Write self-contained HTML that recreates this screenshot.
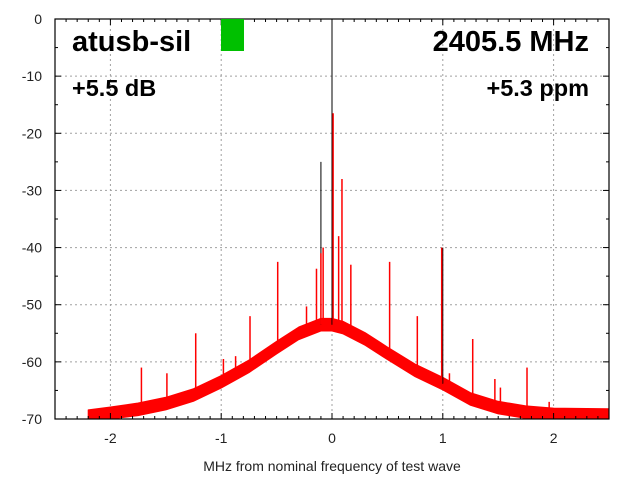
<!DOCTYPE html>
<html><head><meta charset="utf-8">
<style>
html,body{margin:0;padding:0;background:#fff;}
svg{display:block;font-family:"Liberation Sans",sans-serif;}
</style></head>
<body>
<svg id="chart" width="640" height="480" viewBox="0 0 640 480">
<g id="grid"></g>
<g id="series"></g>
<g id="axes"></g>
<rect x="221" y="19" width="23" height="32" fill="#00c000"/>
<text x="72" y="51" font-size="29" font-weight="bold" fill="#000">atusb-sil</text>
<text x="589" y="51" font-size="29" font-weight="bold" fill="#000" text-anchor="end">2405.5 MHz</text>
<text x="72" y="96" font-size="23.5" font-weight="bold" fill="#000">+5.5 dB</text>
<text x="589" y="96" font-size="23.5" font-weight="bold" fill="#000" text-anchor="end">+5.3 ppm</text>
<text x="332" y="471" font-size="14" fill="#222" text-anchor="middle">MHz from nominal frequency of test wave</text>
</svg>
<script>
const xTicks=[-2,-1,0,1,2];
const xTickLabels=["-2","-1","0","1","2"];
const yTicks=[0,-10,-20,-30,-40,-50,-60,-70];
const yTickLabels=["0","-10","-20","-30","-40","-50","-60","-70"];
const envFreq=[-2.2,-2.0,-1.75,-1.5,-1.25,-1.0,-0.75,-0.5,-0.3,-0.1,0,0.1,0.3,0.5,0.75,1.0,1.25,1.5,1.75,2.0,2.5];
const envDb=[-69.5,-69,-68.3,-67.3,-65.8,-63.5,-60.8,-57.5,-55,-53.5,-53.5,-54,-56,-58.5,-61.5,-63.8,-66.5,-68,-68.8,-69.2,-69.3];
const spikeFreq=[-1.72,-1.49,-1.23,-0.98,-0.87,-0.74,-0.49,-0.23,-0.14,-0.1,-0.08,0.01,0.06,0.09,0.17,0.52,0.77,0.99,1.06,1.27,1.47,1.52,1.76,1.96];
const spikeDb=[-61,-62,-55,-59.5,-59,-52,-42.5,-50.3,-43.7,-41,-40,-16.5,-38,-28,-43,-42.5,-52,-40,-62,-56,-63,-64.5,-61,-67];
const blackFreq=[0,-0.1,1.0];
const blackDb=[0,-25,-40];

const NS="http://www.w3.org/2000/svg";
const L=55,R=609,T=19,B=419;
const X=f=>L+(f+2.5)/5*(R-L);
const Y=d=>T+(0-d)/70*(B-T);
function mk(tag,attrs,parent){const e=document.createElementNS(NS,tag);for(const k in attrs)e.setAttribute(k,attrs[k]);parent.appendChild(e);return e;}
const grid=document.getElementById('grid'),ser=document.getElementById('series'),ax=document.getElementById('axes');

xTicks.forEach((t,i)=>{
  const g=mk('line',{x1:X(t),x2:X(t),y1:T,y2:B,stroke:'#a0a0a0','stroke-dasharray':'2,3','stroke-width':1},grid);
  
  
  const tx=mk('text',{x:X(t),y:443,'font-size':14,fill:'#222','text-anchor':'middle'},ax);
  tx.textContent=xTickLabels[i];
  
  
});
yTicks.forEach((t,i)=>{
  if(t!==0&&t!==-70){
    const g=mk('line',{x1:L,x2:R,y1:Y(t),y2:Y(t),stroke:'#a0a0a0','stroke-dasharray':'2,3','stroke-width':1},grid);
    
    
  }
  const tx=mk('text',{x:42,y:Y(t)+5,'font-size':14,fill:'#222','text-anchor':'end'},ax);
  tx.textContent=yTickLabels[i];
  
  
});

function envAt(f){for(let i=0;i<envFreq.length-1;i++){if(f>=envFreq[i]&&f<=envFreq[i+1]){const r=(f-envFreq[i])/(envFreq[i+1]-envFreq[i]);return envDb[i]+r*(envDb[i+1]-envDb[i]);}}return -70;}

// noise band
let up=[],lo=[];
envFreq.forEach((f,i)=>{up.push(X(f).toFixed(1)+','+Y(envDb[i]+1.1).toFixed(1));lo.unshift(X(f).toFixed(1)+','+Math.min(Y(envDb[i]-1.1),B).toFixed(1));});
const band=mk('polygon',{points:up.concat(lo).join(' '),fill:'#ff0000',stroke:'#ff0000','stroke-width':1,'stroke-linejoin':'round'},ser);



blackFreq.forEach((f,i)=>{
  const l=mk('line',{x1:X(f),x2:X(f),y1:Y(envAt(f)),y2:Y(blackDb[i]),stroke:'#000','stroke-width':1},ser);
  
  
});
spikeFreq.forEach((f,i)=>{
  const l=mk('line',{x1:X(f),x2:X(f),y1:Y(envAt(f)),y2:Y(spikeDb[i]),stroke:'#ff0000','stroke-width':1.5},ser);
  
  
});

const fr=mk('rect',{x:L,y:T,width:R-L,height:B-T,fill:'none',stroke:'#000','stroke-width':1.2},ax);


for(let k=-25;k<=25;k++){
  const f=k/10,len=(k%10===0)?6:3;
  const a=mk('line',{x1:X(f),x2:X(f),y1:B,y2:B-len,stroke:'#000'},ax);
  
  
  const b=mk('line',{x1:X(f),x2:X(f),y1:T,y2:T+len,stroke:'#000'},ax);
  
  
}
for(let d=0;d>=-70;d-=5){
  const len=(d%10===0)?6:3;
  const a=mk('line',{x1:L,x2:L+len,y1:Y(d),y2:Y(d),stroke:'#000'},ax);
  
  
  const b=mk('line',{x1:R,x2:R-len,y1:Y(d),y2:Y(d),stroke:'#000'},ax);
  
  
}
</script>
</body></html>
